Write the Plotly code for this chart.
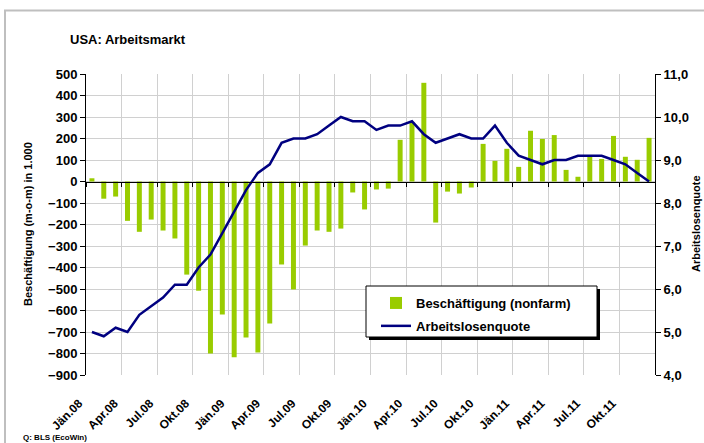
import plotly.graph_objects as go

# ---- data ----
months = [
    "Jän.08", "Feb.08", "Mär.08", "Apr.08", "Mai.08", "Jun.08", "Jul.08", "Aug.08", "Sep.08", "Okt.08", "Nov.08", "Dez.08",
    "Jän.09", "Feb.09", "Mär.09", "Apr.09", "Mai.09", "Jun.09", "Jul.09", "Aug.09", "Sep.09", "Okt.09", "Nov.09", "Dez.09",
    "Jän.10", "Feb.10", "Mär.10", "Apr.10", "Mai.10", "Jun.10", "Jul.10", "Aug.10", "Sep.10", "Okt.10", "Nov.10", "Dez.10",
    "Jän.11", "Feb.11", "Mär.11", "Apr.11", "Mai.11", "Jun.11", "Jul.11", "Aug.11", "Sep.11", "Okt.11", "Nov.11", "Dez.11",
]
employment = [
    15, -80, -70, -183, -234, -177, -228, -265, -433, -508, -800, -619,
    -818, -725, -795, -660, -386, -502, -298, -228, -234, -219, -51, -130,
    -37, -33, 194, 277, 459, -191, -47, -56, -28, 175, 96, 152,
    68, 236, 198, 216, 54, 22, 116, 105, 212, 115, 101, 203,
]
unemployment = [
    5.0, 4.9, 5.1, 5.0, 5.4, 5.6, 5.8, 6.1, 6.1, 6.5, 6.8, 7.3,
    7.8, 8.3, 8.7, 8.9, 9.4, 9.5, 9.5, 9.6, 9.8, 10.0, 9.9, 9.9,
    9.7, 9.8, 9.8, 9.9, 9.6, 9.4, 9.5, 9.6, 9.5, 9.5, 9.8, 9.4,
    9.1, 9.0, 8.9, 9.0, 9.0, 9.1, 9.1, 9.1, 9.0, 8.9, 8.7, 8.5,
]
tick_labels = ["Jän.08", "Apr.08", "Jul.08", "Okt.08", "Jän.09", "Apr.09", "Jul.09", "Okt.09",
               "Jän.10", "Apr.10", "Jul.10", "Okt.10", "Jän.11", "Apr.11", "Jul.11", "Okt.11"]
left_range = [-900, 500]
right_range = [4, 11]

FONT = "Liberation Sans"
GREEN = "#99CC00"
NAVY = "#000080"
GRID = "#D0D0D0"

W, H = 704, 443
L, R, T, B = 86, 655, 74, 375  # plot area in pixels


def px(x):
    return (x - L) / (R - L)


def py(y):
    return (B - y) / (B - T)


fig = go.Figure()
fig.add_trace(go.Bar(
    x=months, y=employment, name="Beschäftigung (nonfarm)",
    marker=dict(color=GREEN, line=dict(width=0)),
    xaxis="x", yaxis="y", legendgroup="a",
))
fig.add_trace(go.Scatter(
    x=months, y=unemployment, name="Arbeitslosenquote", mode="lines",
    line=dict(color=NAVY, width=2.5),
    xaxis="x2", yaxis="y2", legendgroup="b",
))

zero_pos = (0 - left_range[0]) / (left_range[1] - left_range[0])

fig.update_layout(
    width=W, height=H,
    margin=dict(l=L, r=W - R, t=T, b=H - B, autoexpand=False),
    paper_bgcolor="white", plot_bgcolor="white",
    separators=",.",
    font=dict(family=FONT, size=13, color="black", weight="bold"),
    bargap=0.58,
    showlegend=True,
    legend=dict(
        x=px(376), y=py(288), xanchor="left", yanchor="top",
        bgcolor="rgba(0,0,0,0)", borderwidth=0,
        font=dict(family=FONT, size=13, weight="bold"),
        traceorder="grouped", tracegroupgap=3,
    ),
    xaxis=dict(
        type="category", categoryarray=months, range=[-0.5, len(months) - 0.5],
        anchor="free", position=zero_pos,
        tickmode="linear", tick0=0, dtick=3, tickson="boundaries",
        showticklabels=False, ticks="outside", ticklen=4, tickcolor="black",
        showline=True, linecolor="black", linewidth=1,
        showgrid=True, gridcolor=GRID, gridwidth=1, zeroline=False,
    ),
    xaxis2=dict(
        type="category", categoryarray=months, range=[-0.5, len(months) - 0.5],
        overlaying="x", anchor="y2", side="bottom",
        tickmode="array", tickvals=tick_labels, ticktext=tick_labels,
        tickangle=-45, ticks="", showgrid=False, showline=False, zeroline=False,
        tickfont=dict(family=FONT, size=12, weight="bold"),
        ticklabelstandoff=18, ticklabelshift=-13,
    ),
    yaxis=dict(
        range=left_range, dtick=100, tick0=0,
        ticks="outside", ticklen=5, tickcolor="black",
        showline=True, linecolor="black", linewidth=1,
        showgrid=True, gridcolor=GRID, gridwidth=1, zeroline=False,
        tickfont=dict(family=FONT, size=13, weight="bold"),
    ),
    yaxis2=dict(
        range=right_range, dtick=1, tick0=4, tickformat=".1f",
        overlaying="y", side="right", anchor="x2",
        ticks="outside", ticklen=5, tickcolor="black",
        showline=True, linecolor="black", linewidth=1,
        showgrid=False, zeroline=False,
        tickfont=dict(family=FONT, size=13, weight="bold"),
    ),
)

shapes = [
    # outer frame (top and left edges visible)
    dict(type="rect", xref="paper", yref="paper",
         x0=px(5), x1=px(720), y0=py(460), y1=py(10.5),
         line=dict(color="#BFBFBF", width=2), fillcolor="rgba(0,0,0,0)", layer="below"),
    # legend shadow
    dict(type="rect", xref="paper", yref="paper",
         x0=px(369), x1=px(600), y0=py(340), y1=py(289),
         line=dict(width=0), fillcolor="black", layer="above"),
    # legend box
    dict(type="rect", xref="paper", yref="paper",
         x0=px(366), x1=px(597), y0=py(337), y1=py(286),
         line=dict(color="black", width=1), fillcolor="white", layer="above"),
]
fig.update_layout(shapes=shapes)

annotations = [
    dict(text="USA: Arbeitsmarkt", xref="paper", yref="paper", x=px(68), y=py(39),
         xanchor="left", yanchor="middle", showarrow=False,
         font=dict(family=FONT, size=13, weight="bold")),
    dict(text="Beschäftigung (m-o-m) in 1.000", xref="paper", yref="paper",
         x=px(28), y=py(224), xanchor="center", yanchor="middle", textangle=-90,
         showarrow=False, font=dict(family=FONT, size=11, weight="bold")),
    dict(text="Arbeitslosenquote", xref="paper", yref="paper",
         x=px(696), y=py(224), xanchor="center", yanchor="middle", textangle=-90,
         showarrow=False, font=dict(family=FONT, size=11, weight="bold")),
    dict(text="Q: BLS (EcoWin)", xref="paper", yref="paper",
         x=px(21), y=py(437), xanchor="left", yanchor="middle",
         showarrow=False, font=dict(family=FONT, size=8, weight="bold")),
]
fig.update_layout(annotations=annotations)

fig.write_html("out.html", config={"displayModeBar": False},
               post_script="document.body.style.margin='0px';")
